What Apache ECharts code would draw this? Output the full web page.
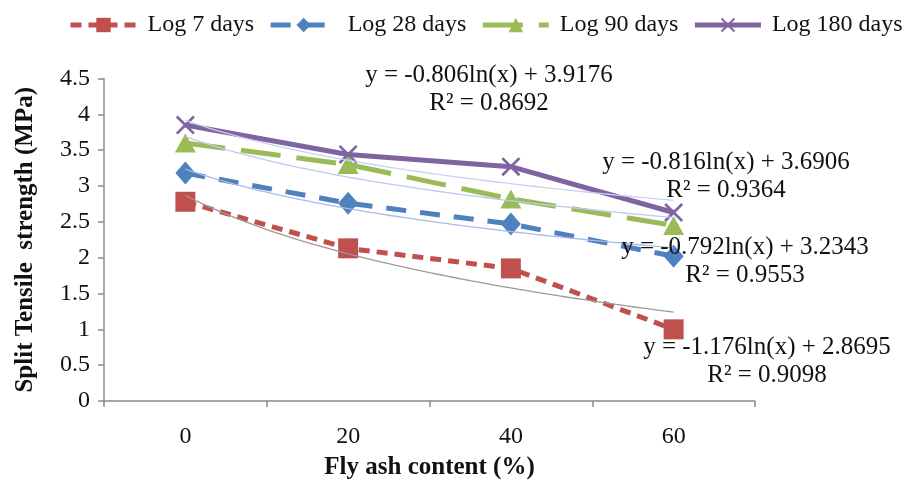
<!DOCTYPE html>
<html>
<head>
<meta charset="utf-8">
<script src="https://cdn.jsdelivr.net/npm/echarts@6/dist/echarts.min.js"></script>
<style>
  html, body { margin: 0; padding: 0; background: #fff; }
  #chart { width: 907px; height: 482px; }
</style>
</head>
<body>
<div id="chart"></div>
<script>
// Fly ash content (%) on the x axis
const categories = ['0', '20', '40', '60'];

// Split tensile strength (MPa) by curing age
const log7 = [2.78, 2.13, 1.85, 1.00];
const log28 = [3.18, 2.76, 2.47, 2.02];
const log90 = [3.60, 3.30, 2.82, 2.45];
const log180 = [3.85, 3.44, 3.27, 2.63];

const seriesNames = ['Log 7 days', 'Log 28 days', 'Log 90 days', 'Log 180 days'];

// Logarithmic trendlines y = a ln(x) + b, x = category position 1..4
const trendA = [-1.176, -0.792, -0.816, -0.806];
const trendB = [2.8695, 3.2343, 3.6906, 3.9176];
const trendR2 = ['0.9098', '0.9553', '0.9364', '0.8692'];

// y-axis ticks
const yMin = 0, yMax = 4.5, yStep = 0.5;

const FONT = '"Liberation Serif", "Times New Roman", serif';
const colors = ['#C0504D', '#4F81BD', '#9BBB59', '#8064A2'];
const trendColors = ['#9a9a9a', '#a9b9ea', '#bccaf0', '#c6d1f2'];
const dashes = [[11, 7], [20, 14], [40, 16], 'solid'];
const crossPath = 'path://M0,1 L1,0 L10,9 L9,10 Z M9,0 L10,1 L1,10 L0,9 Z';
const symbols = ['rect', 'diamond', 'triangle', crossPath];
const symbolSizes = [20, [20, 23], [21, 19], 19];
const values = [log7, log28, log90, log180];

function trendPoints(a, b) {
  const pts = [];
  for (let i = 0; i <= 60; i++) {
    const x = 1 + i * 0.05;
    pts.push([x, a * Math.log(x) + b]);
  }
  return pts;
}

const series = [];
values.forEach((v, i) => {
  series.push({
    name: seriesNames[i],
    type: 'line',
    data: v,
    xAxisIndex: 0,
    yAxisIndex: 0,
    symbol: symbols[i],
    symbolSize: symbolSizes[i],
    showAllSymbol: true,
    lineStyle: { color: colors[i], width: 5, type: dashes[i] },
    itemStyle: { color: colors[i] },
    z: 2,
    animation: false
  });
});
trendA.forEach((a, i) => {
  series.push({
    name: 'trend' + i,
    type: 'line',
    data: trendPoints(a, trendB[i]),
    xAxisIndex: 1,
    yAxisIndex: 0,
    symbol: 'none',
    smooth: false,
    lineStyle: { color: trendColors[i], width: 1.3 },
    z: 3,
    silent: true,
    animation: false
  });
});

function eqText(a, b, r2) {
  const sign = b >= 0 ? '+' : '-';
  return 'y = ' + a.toFixed(3) + 'ln(x) ' + sign + ' ' + Math.abs(b).toFixed(4) + '\nR\u00B2 = ' + r2;
}

// label anchors (pixel centers of each equation block)
const eqPos = [[489, 61], [726, 148], [745, 233], [767, 333]].reverse();

const graphics = trendA.map((a, i) => ({
  type: 'text',
  x: eqPos[i][0],
  y: eqPos[i][1],
  z: 10,
  style: {
    text: eqText(a, trendB[i], trendR2[i]),
    font: '25px ' + FONT,
    fill: '#111',
    align: 'center',
    verticalAlign: 'top',
    lineHeight: 28
  }
}));

const chart = echarts.init(document.getElementById('chart'), null, { renderer: 'canvas' });
chart.setOption({
  animation: false,
  backgroundColor: '#fff',
  textStyle: { fontFamily: FONT },
  legend: {
    data: seriesNames,
    left: 63,
    top: 8,
    width: 860,
    itemWidth: 66,
    itemHeight: 18,
    itemGap: 14,
    lineStyle: { width: 5 },
    textStyle: { fontFamily: FONT, fontSize: 24, color: '#111', padding: [0, 0, 0, 6] }
  },
  grid: { left: 104, right: 152, top: 78.5, bottom: 81, containLabel: false, outerBoundsMode: 'none' },
  xAxis: [
    {
      type: 'category',
      data: categories,
      boundaryGap: true,
      axisLine: { lineStyle: { color: '#8c8c8c', width: 1.5 } },
      axisTick: { show: true, length: 6, alignWithLabel: false, lineStyle: { color: '#8c8c8c', width: 1.5 } },
      axisLabel: { fontFamily: FONT, fontSize: 24, color: '#111', margin: 24 },
      splitLine: { show: false },
      name: 'Fly ash content (%)',
      nameLocation: 'middle',
      nameGap: 54,
      nameTextStyle: { fontFamily: FONT, fontSize: 25, fontWeight: 'bold', color: '#111' }
    },
    {
      type: 'value',
      min: 0.5,
      max: 4.5,
      show: false,
      splitLine: { show: false }
    }
  ],
  yAxis: {
    type: 'value',
    min: yMin,
    max: yMax,
    interval: yStep,
    axisLine: { show: true, lineStyle: { color: '#8c8c8c', width: 1.5 } },
    axisTick: { show: true, length: 6, lineStyle: { color: '#8c8c8c', width: 1.5 } },
    axisLabel: { fontFamily: FONT, fontSize: 24, color: '#111', margin: 14 },
    splitLine: { show: false },
    name: 'Split Tensile  strength (MPa)',
    nameLocation: 'middle',
    nameRotate: 90,
    nameGap: 66,
    nameTextStyle: { fontFamily: FONT, fontSize: 25, fontWeight: 'bold', color: '#111' }
  },
  series: series,
  graphic: graphics
});
</script>
</body>
</html>
